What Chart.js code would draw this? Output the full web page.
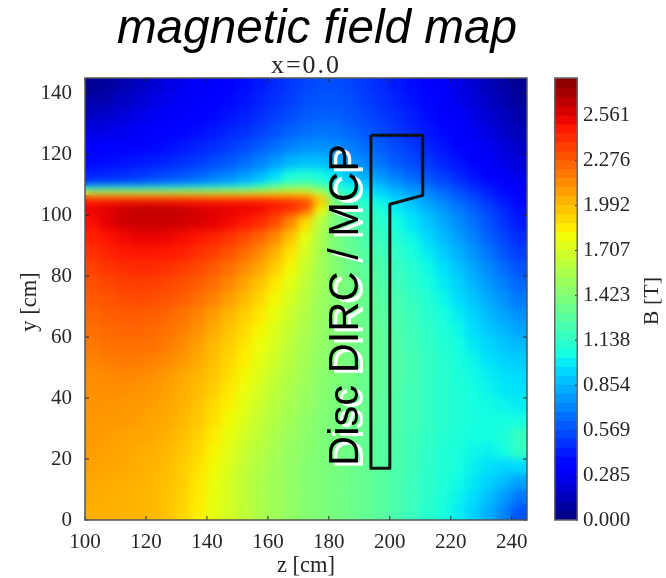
<!DOCTYPE html>
<html>
<head>
<meta charset="utf-8">
<title>magnetic field map</title>
<script src="https://cdn.jsdelivr.net/npm/chart.js@4"></script>
<style>
    body { margin: 0; background: #fff; }
    #wrap { position: relative; width: 666px; height: 578px; overflow: hidden; }
    canvas { position: absolute; top: 0; }
    #mapChart { left: 0; }
    #barChart { left: 554px; }
</style>
</head>
<body>
<div id="wrap">
    <canvas id="mapChart" width="666" height="578"></canvas>
    <canvas id="barChart" width="112" height="578"></canvas>
</div>
<script>
// z of each column centre [cm]
const zCenters = [102.5, 107.5, 112.5, 117.5, 122.5, 127.5, 132.5, 137.5, 142.5, 147.5, 152.5, 157.5, 162.5, 167.5, 172.5,
    177.5, 182.5, 187.5, 192.5, 197.5, 202.5, 207.5, 212.5, 217.5, 222.5, 227.5, 232.5, 237.5, 242.5];
// y edges of the rows [cm], finer around the sharp step at the magnet edge
const yEdges = [0, 5, 10, 15, 20, 25, 30, 35, 40, 45, 50, 55, 60, 65, 70, 75, 80, 85, 90, 95, 100,
    103, 105, 106.5, 108, 109.5, 111, 115, 120, 125, 130, 135, 140, 145];
// B [T], one row per y band, bottom to top
const fieldRows = [
    [2.03,2.03,2.02,2.01,2.00,1.97,1.91,1.84,1.76,1.69,1.63,1.57,1.52,1.48,1.44,1.41,1.38,1.35,1.32,1.28,1.23,1.18,1.12,1.07,1.00,0.93,0.83,0.72,0.58],
    [2.04,2.03,2.02,2.01,2.00,1.97,1.92,1.85,1.77,1.70,1.63,1.57,1.52,1.48,1.44,1.41,1.38,1.35,1.32,1.28,1.23,1.18,1.13,1.08,1.02,0.96,0.88,0.78,0.68],
    [2.05,2.04,2.03,2.02,2.00,1.98,1.93,1.86,1.78,1.70,1.63,1.57,1.52,1.48,1.44,1.41,1.38,1.35,1.32,1.28,1.23,1.18,1.13,1.09,1.04,0.99,0.93,0.87,0.80],
    [2.07,2.06,2.05,2.03,2.01,1.99,1.94,1.88,1.80,1.72,1.64,1.58,1.53,1.48,1.44,1.41,1.38,1.35,1.32,1.28,1.23,1.19,1.14,1.10,1.06,1.01,0.97,0.94,0.95],
    [2.08,2.07,2.06,2.04,2.03,2.00,1.96,1.90,1.82,1.74,1.66,1.60,1.54,1.49,1.45,1.41,1.38,1.35,1.32,1.28,1.24,1.19,1.14,1.10,1.07,1.03,1.01,1.05,1.15],
    [2.09,2.08,2.07,2.06,2.05,2.02,1.98,1.92,1.85,1.77,1.69,1.62,1.56,1.50,1.46,1.42,1.38,1.35,1.32,1.28,1.24,1.19,1.15,1.11,1.08,1.05,1.05,1.08,1.17],
    [2.10,2.09,2.09,2.08,2.06,2.04,2.00,1.95,1.88,1.80,1.72,1.65,1.58,1.52,1.47,1.43,1.39,1.36,1.32,1.29,1.25,1.20,1.16,1.12,1.09,1.06,1.05,1.05,1.06],
    [2.11,2.11,2.10,2.09,2.08,2.05,2.02,1.97,1.90,1.83,1.75,1.67,1.60,1.54,1.49,1.44,1.40,1.36,1.33,1.29,1.25,1.20,1.16,1.12,1.09,1.06,1.04,1.02,1.00],
    [2.12,2.12,2.12,2.11,2.09,2.07,2.03,1.99,1.93,1.86,1.78,1.70,1.62,1.56,1.50,1.45,1.41,1.37,1.33,1.30,1.25,1.20,1.16,1.12,1.09,1.05,1.02,0.99,0.97],
    [2.13,2.14,2.15,2.14,2.12,2.09,2.05,2.01,1.96,1.89,1.81,1.73,1.65,1.58,1.52,1.46,1.42,1.38,1.34,1.30,1.25,1.21,1.16,1.12,1.08,1.04,1.00,0.97,0.95],
    [2.16,2.18,2.19,2.19,2.17,2.14,2.10,2.04,1.98,1.91,1.84,1.76,1.68,1.60,1.53,1.47,1.42,1.38,1.34,1.30,1.25,1.21,1.16,1.12,1.07,1.02,0.97,0.93,0.91],
    [2.19,2.21,2.22,2.22,2.21,2.18,2.13,2.07,2.00,1.94,1.87,1.79,1.70,1.62,1.54,1.48,1.43,1.38,1.34,1.30,1.25,1.20,1.15,1.10,1.05,0.99,0.94,0.89,0.86],
    [2.22,2.24,2.25,2.25,2.24,2.21,2.17,2.11,2.04,1.97,1.90,1.82,1.73,1.64,1.56,1.49,1.43,1.38,1.34,1.30,1.24,1.19,1.14,1.09,1.03,0.96,0.90,0.85,0.80],
    [2.25,2.27,2.28,2.28,2.27,2.25,2.21,2.15,2.08,2.01,1.94,1.86,1.77,1.67,1.58,1.50,1.44,1.38,1.33,1.28,1.23,1.18,1.12,1.06,1.00,0.93,0.86,0.80,0.74],
    [2.28,2.30,2.32,2.33,2.32,2.30,2.27,2.22,2.16,2.08,2.00,1.91,1.81,1.71,1.60,1.51,1.44,1.38,1.33,1.27,1.22,1.16,1.10,1.03,0.96,0.89,0.82,0.75,0.68],
    [2.31,2.34,2.36,2.37,2.36,2.34,2.31,2.27,2.22,2.15,2.06,1.97,1.86,1.75,1.63,1.52,1.44,1.37,1.31,1.25,1.19,1.13,1.07,1.00,0.93,0.85,0.77,0.70,0.63],
    [2.35,2.39,2.41,2.42,2.42,2.40,2.37,2.33,2.28,2.22,2.14,2.05,1.94,1.81,1.66,1.53,1.43,1.35,1.29,1.23,1.17,1.11,1.04,0.97,0.89,0.81,0.73,0.65,0.58],
    [2.40,2.44,2.47,2.48,2.48,2.47,2.45,2.41,2.36,2.30,2.23,2.14,2.02,1.87,1.70,1.54,1.41,1.33,1.26,1.20,1.14,1.07,1.00,0.92,0.84,0.76,0.67,0.59,0.52],
    [2.45,2.49,2.52,2.54,2.54,2.53,2.51,2.48,2.44,2.39,2.33,2.25,2.14,1.97,1.76,1.56,1.40,1.30,1.23,1.16,1.10,1.03,0.95,0.87,0.79,0.71,0.62,0.54,0.47],
    [2.50,2.55,2.60,2.62,2.62,2.62,2.60,2.58,2.55,2.52,2.48,2.42,2.32,2.15,1.90,1.60,1.38,1.27,1.19,1.12,1.05,0.98,0.90,0.82,0.74,0.66,0.58,0.49,0.42],
    [2.54,2.58,2.62,2.65,2.65,2.65,2.63,2.60,2.58,2.56,2.54,2.52,2.46,2.40,2.28,1.80,1.38,1.24,1.15,1.08,1.00,0.93,0.85,0.77,0.69,0.62,0.54,0.46,0.39],
    [2.50,2.52,2.53,2.53,2.53,2.52,2.52,2.51,2.50,2.50,2.50,2.50,2.48,2.45,2.38,2.00,1.40,1.20,1.10,1.02,0.95,0.88,0.80,0.73,0.65,0.58,0.50,0.43,0.37],
    [2.30,2.30,2.30,2.30,2.30,2.30,2.30,2.30,2.29,2.28,2.28,2.27,2.25,2.22,2.18,1.90,1.35,1.16,1.05,0.98,0.90,0.84,0.76,0.69,0.62,0.55,0.47,0.40,0.35],
    [1.75,1.75,1.75,1.75,1.75,1.75,1.76,1.76,1.76,1.77,1.78,1.80,1.82,1.83,1.82,1.60,1.25,1.10,1.00,0.93,0.86,0.79,0.72,0.65,0.58,0.51,0.44,0.38,0.33],
    [1.05,1.05,1.05,1.05,1.06,1.07,1.08,1.10,1.12,1.15,1.18,1.25,1.33,1.42,1.45,1.35,1.15,1.04,0.96,0.89,0.82,0.75,0.68,0.62,0.55,0.48,0.42,0.36,0.31],
    [0.55,0.56,0.58,0.60,0.63,0.66,0.70,0.74,0.78,0.83,0.90,1.00,1.15,1.25,1.28,1.20,1.07,0.98,0.91,0.84,0.77,0.71,0.64,0.58,0.52,0.45,0.39,0.34,0.29],
    [0.45,0.46,0.48,0.50,0.53,0.56,0.59,0.63,0.68,0.72,0.78,0.85,0.95,1.06,1.10,1.05,0.97,0.89,0.82,0.76,0.69,0.63,0.57,0.52,0.46,0.40,0.35,0.29,0.25],
    [0.37,0.38,0.39,0.41,0.43,0.45,0.48,0.51,0.55,0.59,0.64,0.70,0.77,0.84,0.88,0.87,0.83,0.77,0.71,0.66,0.60,0.55,0.50,0.45,0.40,0.35,0.30,0.25,0.21],
    [0.30,0.31,0.32,0.34,0.36,0.38,0.41,0.44,0.47,0.51,0.55,0.60,0.65,0.70,0.74,0.75,0.73,0.69,0.64,0.60,0.55,0.50,0.45,0.40,0.35,0.31,0.27,0.22,0.17],
    [0.24,0.25,0.27,0.29,0.31,0.33,0.36,0.38,0.41,0.45,0.48,0.52,0.57,0.62,0.65,0.67,0.66,0.63,0.59,0.55,0.50,0.46,0.41,0.37,0.32,0.28,0.23,0.18,0.13],
    [0.17,0.19,0.22,0.25,0.28,0.30,0.32,0.35,0.37,0.40,0.43,0.47,0.52,0.56,0.60,0.62,0.61,0.59,0.55,0.51,0.47,0.43,0.38,0.34,0.30,0.25,0.20,0.15,0.10],
    [0.10,0.12,0.16,0.20,0.24,0.27,0.29,0.32,0.34,0.37,0.40,0.44,0.48,0.52,0.56,0.58,0.58,0.56,0.52,0.48,0.44,0.40,0.36,0.32,0.27,0.22,0.17,0.12,0.07],
    [0.05,0.07,0.11,0.15,0.20,0.24,0.27,0.30,0.32,0.35,0.38,0.42,0.46,0.50,0.54,0.56,0.56,0.54,0.50,0.46,0.42,0.38,0.34,0.30,0.25,0.20,0.14,0.09,0.05]
];
// detector outline
const detectorZ = [193.8, 210.8, 210.8, 200, 200, 193.8, 193.8];
const detectorY = [126.2, 126.2, 106.5, 103.6, 17, 17, 126.2];
// colorbar
const barLevels = [0, 0.057, 0.114, 0.171, 0.228, 0.285, 0.342, 0.399, 0.456, 0.513, 0.569, 0.626, 0.683, 0.74, 0.797,
    0.854, 0.911, 0.968, 1.025, 1.082, 1.138, 1.195, 1.252, 1.309, 1.366, 1.423, 1.48, 1.537, 1.594, 1.651,
    1.707, 1.764, 1.821, 1.878, 1.935, 1.992, 2.049, 2.106, 2.163, 2.22, 2.276, 2.333, 2.39, 2.447, 2.504,
    2.561, 2.618, 2.675, 2.732, 2.8];
const barTicks = [0, 0.285, 0.569, 0.854, 1.138, 1.423, 1.707, 1.992, 2.276, 2.561];
const bMax = 2.8;
// jet colormap
const jetRed = [[0, 0], [0.35, 0], [0.66, 1], [0.89, 1], [1, 0.5]];
const jetGreen = [[0, 0], [0.125, 0], [0.375, 1], [0.64, 1], [0.91, 0], [1, 0]];
const jetBlue = [[0, 0.5], [0.11, 1], [0.34, 1], [0.65, 0], [1, 0]];

function channel(stops, t) {
    for (let i = 1; i < stops.length; i++) {
        if (t <= stops[i][0]) {
            const f = (t - stops[i - 1][0]) / (stops[i][0] - stops[i - 1][0]);
            return stops[i - 1][1] + f * (stops[i][1] - stops[i - 1][1]);
        }
    }
    return stops[stops.length - 1][1];
}

function jet(b) {
    const t = Math.min(1, Math.max(0, b / bMax));
    const c = [jetRed, jetGreen, jetBlue].map(s => Math.round(255 * channel(s, t)));
    return `rgb(${c[0]},${c[1]},${c[2]})`;
}

const serif = '"Liberation Serif", serif';
const inkColor = '#262626';

// one bar dataset per y band, drawn as floating bars
const mapDatasets = fieldRows.map((row, r) => ({
    type: 'bar',
    label: 'y band ' + r,
    order: 1,
    grouped: false,
    barThickness: 16.25,
    borderWidth: 0,
    data: row.map((b, c) => ({ x: zCenters[c], y: [yEdges[r], yEdges[r + 1]] })),
    backgroundColor: row.map(jet)
}));

mapDatasets.push({
    type: 'line',
    label: 'detector',
    order: 0,
    data: detectorZ.map((z, i) => ({ x: z, y: detectorY[i] })),
    borderColor: '#111',
    borderWidth: 3,
    pointRadius: 0,
    tension: 0,
    borderJoinStyle: 'round'
});

// softens the cells once all bars are down, before the detector line
const softenPlugin = {
    id: 'soften',
    afterDatasetDraw(chart, args) {
        if (args.index !== 0) return;
        const a = chart.chartArea;
        const ctx = chart.ctx;
        ctx.save();
        ctx.beginPath();
        ctx.rect(a.left, a.top, a.width, a.height);
        ctx.clip();
        ctx.filter = 'blur(4px)';
        ctx.drawImage(ctx.canvas, a.left, a.top, a.width, a.height, a.left, a.top, a.width, a.height);
        ctx.restore();
    }
};

// frame with the short inward ticks, on all four sides
const framePlugin = {
    id: 'frame',
    afterDatasetsDraw(chart) {
        const a = chart.chartArea;
        const ctx = chart.ctx;
        const xs = chart.scales.x;
        const ys = chart.scales.y;
        ctx.save();
        ctx.strokeStyle = '#222';
        ctx.lineWidth = 1;
        ctx.beginPath();
        xs.ticks.forEach(t => {
            const p = xs.getPixelForValue(t.value);
            ctx.moveTo(p, a.bottom); ctx.lineTo(p, a.bottom - 4);
            ctx.moveTo(p, a.top); ctx.lineTo(p, a.top + 4);
        });
        ys.ticks.forEach(t => {
            const p = ys.getPixelForValue(t.value);
            ctx.moveTo(a.left, p); ctx.lineTo(a.left + 4, p);
            ctx.moveTo(a.right, p); ctx.lineTo(a.right - 4, p);
        });
        ctx.stroke();
        ctx.strokeStyle = '#555';
        ctx.lineWidth = 1.5;
        ctx.strokeRect(a.left, a.top, a.width, a.height);
        ctx.restore();
    }
};

// titles and the label written over the map
const textPlugin = {
    id: 'texts',
    afterDraw(chart) {
        const ctx = chart.ctx;
        ctx.save();
        ctx.textAlign = 'center';
        ctx.textBaseline = 'alphabetic';
        ctx.fillStyle = '#000';
        ctx.font = 'italic 47.7px "Liberation Sans", sans-serif';
        ctx.fillText('magnetic field map', 317, 43);
        ctx.fillStyle = inkColor;
        ctx.font = '26px ' + serif;
        ctx.letterSpacing = '2px';
        ctx.fillText('x=0.0', 306, 73);
        ctx.letterSpacing = '0px';
        ctx.font = '22.5px ' + serif;
        ctx.fillText('z [cm]', 306, 572);
        ctx.translate(36, 302);
        ctx.rotate(-Math.PI / 2);
        ctx.fillText('y [cm]', 0, 0);
        ctx.restore();

        ctx.save();
        ctx.translate(358, 305);
        ctx.rotate(-Math.PI / 2);
        ctx.textAlign = 'center';
        ctx.font = '41.7px "Liberation Sans", sans-serif';
        ctx.fillStyle = '#fff';
        ctx.fillText('Disc DIRC / MCP', -3, 5);
        ctx.fillStyle = '#000';
        ctx.fillText('Disc DIRC / MCP', 0, 0);
        ctx.restore();
    }
};

const mapAxisTicks = {
    font: { family: serif, size: 21 },
    color: inkColor,
    stepSize: 20,
    includeBounds: false,
    autoSkip: false,
    maxRotation: 0
};

new Chart(document.getElementById('mapChart').getContext('2d'), {
    type: 'bar',
    data: { datasets: mapDatasets },
    plugins: [softenPlugin, framePlugin, textPlugin],
    options: {
        responsive: false,
        animation: false,
        layout: { padding: { top: 78, right: 139, left: 0, bottom: 0 } },
        plugins: { legend: { display: false }, tooltip: { enabled: false } },
        scales: {
            x: {
                type: 'linear',
                offset: false,
                min: 100,
                max: 245,
                grid: { display: false, offset: false },
                border: { display: false },
                ticks: { ...mapAxisTicks, padding: 2 },
                afterFit(scale) { scale.height = 58; }
            },
            y: {
                type: 'linear',
                min: 0,
                max: 145,
                grid: { display: false },
                border: { display: false },
                ticks: { ...mapAxisTicks, padding: 5 },
                afterFit(scale) { scale.width = 85; }
            }
        }
    }
});

// colorbar
const barDatasets = barLevels.slice(0, -1).map((lo, i) => ({
    label: 'level ' + i,
    data: [[lo, barLevels[i + 1]]],
    backgroundColor: jet((lo + barLevels[i + 1]) / 2),
    borderWidth: 0,
    grouped: false,
    barPercentage: 1,
    categoryPercentage: 1
}));

const barFramePlugin = {
    id: 'barFrame',
    afterDatasetsDraw(chart) {
        const a = chart.chartArea;
        const ctx = chart.ctx;
        const ys = chart.scales.y;
        ctx.save();
        ctx.strokeStyle = '#333';
        ctx.lineWidth = 1;
        ctx.beginPath();
        ys.ticks.forEach(t => {
            const p = ys.getPixelForValue(t.value);
            ctx.moveTo(a.right, p); ctx.lineTo(a.right - 3, p);
        });
        ctx.stroke();
        ctx.strokeStyle = '#666';
        ctx.lineWidth = 1.5;
        ctx.strokeRect(a.left + 0.75, a.top, a.width - 1.5, a.height);
        ctx.restore();
    },
    afterDraw(chart) {
        const ctx = chart.ctx;
        ctx.save();
        ctx.translate(104, 301);
        ctx.rotate(-Math.PI / 2);
        ctx.textAlign = 'center';
        ctx.fillStyle = inkColor;
        ctx.font = '22px ' + serif;
        ctx.fillText('B [T]', 0, 0);
        ctx.restore();
    }
};

new Chart(document.getElementById('barChart').getContext('2d'), {
    type: 'bar',
    data: { labels: ['B'], datasets: barDatasets },
    plugins: [barFramePlugin],
    options: {
        responsive: false,
        animation: false,
        layout: { padding: { top: 78, bottom: 58, left: 0, right: 0 } },
        plugins: { legend: { display: false }, tooltip: { enabled: false } },
        scales: {
            x: { display: false },
            y: {
                position: 'right',
                type: 'linear',
                min: 0,
                max: bMax,
                grid: { display: false, drawTicks: false },
                border: { display: false },
                afterBuildTicks(scale) {
                    scale.ticks = barTicks.map(v => ({ value: v }));
                },
                ticks: {
                    font: { family: serif, size: 21 },
                    color: inkColor,
                    padding: 5,
                    autoSkip: false,
                    callback: v => v.toFixed(3)
                },
                afterFit(scale) { scale.width = 88; }
            }
        }
    }
});
</script>
</body>
</html>
